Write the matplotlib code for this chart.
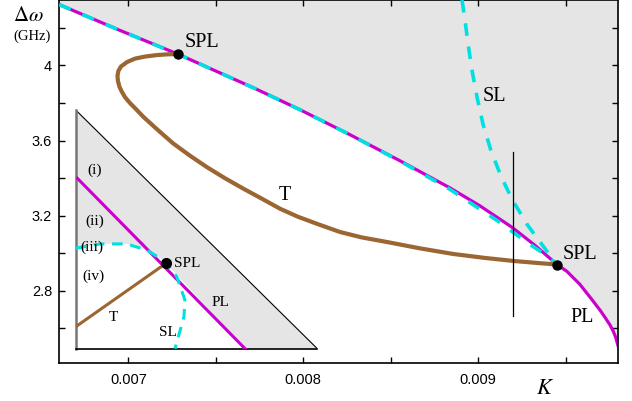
import numpy as np
import matplotlib
matplotlib.use("Agg")
import matplotlib.pyplot as plt

plt.rcParams["mathtext.fontset"] = "stix"

# --- main panel data (K, delta omega in GHz) ---
pl_k = [0.006604, 0.006953, 0.007284, 0.007495, 0.007724, 0.007981, 0.008267,
        0.008553, 0.008838, 0.009010, 0.009193, 0.009324, 0.009450, 0.009507,
        0.009581, 0.009638, 0.009667, 0.009695, 0.009724, 0.009753, 0.009770,
        0.009786, 0.009798]
pl_w = [4.324, 4.186, 4.060, 3.972, 3.877, 3.764, 3.631,
        3.492, 3.348, 3.252, 3.138, 3.042, 2.940, 2.903,
        2.834, 2.767, 2.732, 2.698, 2.659, 2.618, 2.588,
        2.551, 2.510]

# dashed cyan branch lying on the PL curve
pld_k = [0.006604, 0.006953, 0.007284, 0.007495, 0.007724, 0.007981, 0.008267,
         0.008553, 0.008838, 0.009010, 0.009124, 0.009193, 0.009295, 0.009381,
         0.009450]
pld_w = [4.324, 4.186, 4.060, 3.972, 3.877, 3.764, 3.631,
         3.490, 3.340, 3.234, 3.164, 3.116, 3.047, 2.994,
         2.940]

sl_k = [0.008907, 0.008924, 0.008941, 0.008964, 0.008993, 0.009027, 0.009072,
        0.009130, 0.009193, 0.009283, 0.009389, 0.009441]
sl_w = [4.348, 4.242, 4.119, 3.975, 3.831, 3.687, 3.548,
        3.410, 3.287, 3.148, 3.015, 2.946]

t_k = [0.007286, 0.007227, 0.007164, 0.007095, 0.007038, 0.006993, 0.006958,
       0.006943, 0.006938, 0.006941, 0.006950, 0.006964, 0.006981, 0.007010,
       0.007044, 0.007086, 0.007170, 0.007257, 0.007353, 0.007448, 0.007553,
       0.007657, 0.007764, 0.007867, 0.007970, 0.008077, 0.008210, 0.008335,
       0.008477, 0.008667, 0.008857, 0.009038, 0.009200, 0.009353, 0.009450]
t_w = [4.060, 4.059, 4.055, 4.047, 4.036, 4.018, 3.994,
       3.970, 3.943, 3.916, 3.884, 3.858, 3.831, 3.799,
       3.767, 3.726, 3.655, 3.584, 3.519, 3.459, 3.399,
       3.344, 3.290, 3.237, 3.194, 3.157, 3.113, 3.084,
       3.060, 3.026, 2.996, 2.975, 2.959, 2.947, 2.940]

spl_k = [0.007286, 0.009450]
spl_w = [4.060, 2.940]

cut_k = 0.009197
cut_w = [2.668, 3.539]

x_ticks = [0.007, 0.0075, 0.008, 0.0085, 0.009, 0.0095]
x_labels = ["0.007", "", "0.008", "", "0.009", ""]
y_ticks = [2.6, 2.8, 3.0, 3.2, 3.4, 3.6, 3.8, 4.0, 4.2]
y_labels = ["", "2.8", "", "3.2", "", "3.6", "", "4", ""]

# --- inset sketch (unit coordinates) ---
in_pl_u = [0.0066, 0.701]
in_pl_v = [0.714, 0.0]
in_t_u = [0.0, 0.374]
in_t_v = [0.092, 0.358]
in_sl_u = [0.0, 0.101, 0.211, 0.294, 0.349, 0.374, 0.418, 0.452, 0.448, 0.411]
in_sl_v = [0.421, 0.439, 0.439, 0.413, 0.379, 0.358, 0.302, 0.204, 0.134, 0.0]
in_spl = (0.374, 0.358)

magenta = "#cc00cc"
cyan = "#00e0e0"
brown = "#9c6632"
grey = "#e5e5e5"
serif = "Liberation Serif"

fig = plt.figure(figsize=(6.32, 4.01), dpi=100)
ax = fig.add_axes([0.0934, 0.094, 0.8840, 0.905])
xlo, xhi = 0.006604, 0.009797
ylo, yhi = 2.414, 4.346

ax.fill_between(pl_k, pl_w, yhi + 0.1, color=grey, lw=0, zorder=0)
ax.plot(pl_k, pl_w, color=magenta, lw=2.3, zorder=2)
ax.plot(pld_k, pld_w, color=cyan, lw=2.6, dashes=(3.5, 3.5), zorder=3)
ax.plot(sl_k, sl_w, color=cyan, lw=2.6, dashes=(3.5, 3), zorder=3)
ax.plot(t_k, t_w, color=brown, lw=3, zorder=4, solid_capstyle="butt")
ax.plot(spl_k, spl_w, "o", color="black", ms=6.5, zorder=6)
ax.plot([cut_k, cut_k], cut_w, color="black", lw=0.9, zorder=5)

ax.text(0.007320, 4.123, "SPL", family=serif, fontsize=14.5, ha="left", va="center")
ax.text(0.009482, 2.994, "SPL", family=serif, fontsize=14.5, ha="left", va="center")
ax.text(0.009524, 2.656, "PL", family=serif, fontsize=14.5, ha="left", va="center")
ax.text(0.009025, 3.833, "SL", family=serif, fontsize=14.5, ha="left", va="center")
ax.text(0.007897, 3.309, "T", family=serif, fontsize=14.5, ha="center", va="center")

ax.set_xlim(xlo, xhi)
ax.set_ylim(ylo, yhi)
ax.set_xticks(x_ticks)
ax.set_xticklabels(x_labels, family="Liberation Sans", fontsize=10.5)
ax.set_yticks(y_ticks)
ax.set_yticklabels(y_labels, family="Liberation Sans", fontsize=10.5)
ax.tick_params(direction="in", length=4, width=1, top=True, right=True, pad=5)
ax.tick_params(axis="x", pad=7)
for s in ax.spines.values():
    s.set_linewidth(1.2)

fig.text(28 / 632, 1 - 15 / 401, r"$\Delta\omega$", fontsize=15, ha="center", va="center")
fig.text(32 / 632, 1 - 36 / 401, "(GHz)", family=serif, fontsize=10.5, ha="center", va="center")
fig.text(545 / 632, 1 - 388 / 401, r"$K$", fontsize=16, ha="center", va="center")

# --- inset ---
ins = fig.add_axes([0.1198, 0.1304, 0.3823, 0.5953])
ins.patch.set_alpha(0)
ins.set_xlim(0, 1)
ins.set_ylim(0, 1)
ins.set_xticks([])
ins.set_yticks([])
ins.spines["top"].set_visible(False)
ins.spines["right"].set_visible(False)
ins.spines["left"].set_color("#777777")
ins.spines["left"].set_linewidth(1.8)
ins.spines["bottom"].set_linewidth(1.2)

ins.fill([0, 0, 1], [0, 1, 0], color=grey, lw=0, zorder=0)
wu = [0.0] + in_sl_u[:6] + [in_pl_u[1], 0.0]
wv = [0.0] + in_sl_v[:6] + [in_pl_v[1], 0.0]
ins.fill(wu, wv, color="white", lw=0, zorder=1)
ins.plot([0, 1], [1, 0], color="black", lw=0.8, zorder=2)
ins.plot(in_pl_u, in_pl_v, color=magenta, lw=2.2, zorder=3)
ins.plot(in_sl_u, in_sl_v, color=cyan, lw=2.2, dashes=(3.5, 2.5), zorder=3)
ins.plot(in_t_u, in_t_v, color=brown, lw=2.2, zorder=3)
ins.plot(*in_spl, "o", color="black", ms=7, zorder=5)

lab = dict(family=serif, fontsize=11, ha="center", va="center", zorder=6)
ins.text(0.077, 0.749, "(i)", **lab)
ins.text(0.080, 0.532, "(ii)", **lab)
ins.text(0.066, 0.423, "(iii)", **lab)
ins.text(0.073, 0.302, "(iv)", **lab)
ins.text(0.156, 0.132, "T", **lab)
ins.text(0.383, 0.067, "SL", **lab)
ins.text(0.601, 0.194, "PL", **lab)
ins.text(0.407, 0.358, "SPL", family=serif, fontsize=11, ha="left", va="center", zorder=6)

fig.savefig("out.png", dpi=100)
